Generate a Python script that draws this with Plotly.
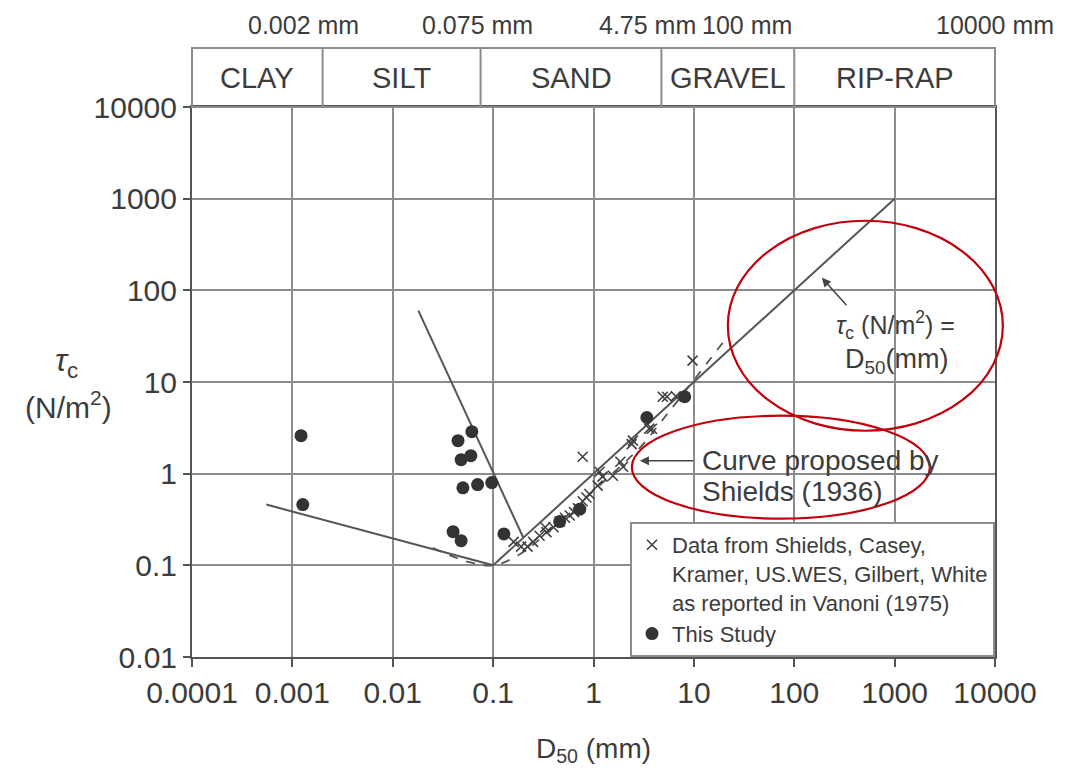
import numpy as np
import plotly.graph_objects as go

# ---------------- data ----------------
# Data from Shields, Casey, Kramer, US.WES, Gilbert, White (Vanoni 1975)
vanoni_d = [0.16, 0.19, 0.22, 0.25, 0.29, 0.34, 0.40, 0.46, 0.58, 0.70, 0.78, 0.91,
            1.1, 1.23, 1.56, 1.97, 2.47, 0.78, 1.15, 1.85, 2.4, 3.6, 3.82, 5.4, 4.9,
            9.7, 0.33, 0.52, 0.64, 0.85, 6.6]
vanoni_tau = [0.18, 0.16, 0.16, 0.18, 0.21, 0.23, 0.26, 0.30, 0.35, 0.42, 0.50, 0.60,
              0.74, 0.93, 0.95, 1.19, 2.29, 1.53, 1.05, 1.35, 2.1, 3.1, 3.09, 6.9, 6.9,
              17.1, 0.26, 0.33, 0.38, 0.55, 7.0]

# This Study
study_d = [0.00122, 0.00127, 0.0447, 0.0614, 0.048, 0.060, 0.050, 0.070, 0.097,
           0.0399, 0.048, 0.128, 0.46, 0.73, 3.4, 8.1]
study_tau = [2.6, 0.46, 2.29, 2.87, 1.42, 1.57, 0.70, 0.76, 0.80,
             0.233, 0.186, 0.22, 0.30, 0.41, 4.1, 6.9]

# Proposed relations (solid lines)
eq_d = [0.1, 1000]            # tau_c (N/m2) = D50 (mm)
eq_tau = [0.1, 1000]
clay_d = [0.00055, 0.1]
clay_tau = [0.46, 0.1]
silt_d = [0.018, 0.2]
silt_tau = [60, 0.2]

# Shields (1936) curve (dashed)
shields_d = [0.025, 0.055, 0.1, 0.2, 0.5, 1.0, 2.0, 3.0, 5.0, 10.0, 20.0]
shields_tau = [0.155, 0.11, 0.1, 0.14, 0.33, 0.65, 1.3, 2.0, 4.0, 10.5, 28.0]

x_tick_vals = [0.0001, 0.001, 0.01, 0.1, 1, 10, 100, 1000, 10000]
x_tick_text = ["0.0001", "0.001", "0.01", "0.1", "1", "10", "100", "1000", "10000"]
y_tick_vals = [0.01, 0.1, 1, 10, 100, 1000, 10000]
y_tick_text = ["0.01", "0.1", "1", "10", "100", "1000", "10000"]

class_bounds = [0.0001, 0.002, 0.075, 4.75, 100, 10000]
class_names = ["CLAY", "SILT", "SAND", "GRAVEL", "RIP-RAP"]
size_labels = ["0.002 mm", "0.075 mm", "4.75 mm", "100 mm", "10000 mm"]
size_label_pos = [0.00128, 0.0706, 3.48, 33.7, 10000]

# ---------------- styling ----------------
FONT = "Liberation Sans, Arial, sans-serif"
TXT = "#3c3c3c"
GRID = "#8c8c8c"
LINE = "#555555"
RED = "#c0000c"
PLOT_H = 609
DOM = 550 / PLOT_H  # fraction of plot height used by the graph (rest is class band)


def xp(v):
    return (np.log10(v) + 4) / 8


def yp(v):
    return (np.log10(v) + 2) / 6 * DOM


fig = go.Figure()

line_style = dict(color=LINE, width=2)
fig.add_trace(go.Scatter(x=eq_d, y=eq_tau, mode="lines", line=line_style,
                         showlegend=False, hoverinfo="skip"))
fig.add_trace(go.Scatter(x=clay_d, y=clay_tau, mode="lines", line=line_style,
                         showlegend=False, hoverinfo="skip"))
fig.add_trace(go.Scatter(x=silt_d, y=silt_tau, mode="lines", line=line_style,
                         showlegend=False, hoverinfo="skip"))
fig.add_trace(go.Scatter(x=shields_d, y=shields_tau, mode="lines",
                         line=dict(color=LINE, width=1.8, dash="dash"),
                         line_shape="spline", showlegend=False, hoverinfo="skip"))

fig.add_trace(go.Scatter(
    x=vanoni_d, y=vanoni_tau, mode="markers",
    name="Data from Shields, Casey,<br>Kramer, US.WES, Gilbert, White<br>as reported in Vanoni (1975)",
    marker=dict(symbol="x-thin-open", size=10, color="#404040",
                line=dict(color="#404040", width=1.6))))
fig.add_trace(go.Scatter(
    x=study_d, y=study_tau, mode="markers", name="This Study",
    marker=dict(symbol="circle", size=13, color="#333333")))

shapes = []
# soil-class band
shapes.append(dict(type="rect", xref="paper", yref="paper", x0=0, x1=1, y0=DOM, y1=1,
                   line=dict(color=GRID, width=2), fillcolor="rgba(0,0,0,0)"))
for b in class_bounds[1:-1]:
    shapes.append(dict(type="line", xref="paper", yref="paper", x0=xp(b), x1=xp(b),
                       y0=DOM, y1=1, line=dict(color=GRID, width=2)))
# red highlight ellipses
shapes.append(dict(type="circle", xref="paper", yref="paper",
                   x0=xp(21.8), x1=xp(11970), y0=yp(2.94), y1=yp(574),
                   line=dict(color=RED, width=2.2)))
shapes.append(dict(type="circle", xref="paper", yref="paper",
                   x0=xp(2.41), x1=xp(2244), y0=yp(0.323), y1=yp(4.29),
                   line=dict(color=RED, width=2.2)))

ann = []
for i, name in enumerate(class_names):
    cx = 10 ** ((np.log10(class_bounds[i]) + np.log10(class_bounds[i + 1])) / 2)
    ann.append(dict(xref="paper", yref="paper", x=xp(cx), y=(1 + DOM) / 2, text=name,
                    showarrow=False, xanchor="center", yanchor="middle",
                    font=dict(size=29, color=TXT, family=FONT)))
for lab, pos in zip(size_labels, size_label_pos):
    ann.append(dict(xref="paper", yref="paper", x=xp(pos), y=(657 - 25) / PLOT_H, text=lab,
                    showarrow=False, xanchor="center", yanchor="middle",
                    font=dict(size=25, color=TXT, family=FONT)))

# y-axis title (horizontal)
ann.append(dict(xref="paper", yref="paper", x=(66 - 192) / 803, y=(657 - 362) / PLOT_H,
                text="<i>τ</i><sub>c</sub>", showarrow=False,
                xanchor="center", yanchor="middle",
                font=dict(size=32, color=TXT, family=FONT)))
ann.append(dict(xref="paper", yref="paper", x=(68 - 192) / 803, y=(657 - 405) / PLOT_H,
                text="(N/m<sup>2</sup>)", showarrow=False,
                xanchor="center", yanchor="middle",
                font=dict(size=30, color=TXT, family=FONT)))

# Shields curve callout
ann.append(dict(xref="x", yref="y", x=np.log10(2.9), y=0.142, text="", showarrow=True,
                ax=55, ay=0, arrowhead=2, arrowsize=1.2, arrowwidth=1.5, arrowcolor="#444",
                standoff=0))
ann.append(dict(xref="x", yref="y", x=1.06, y=0.142, text="Curve proposed by",
                showarrow=False, xanchor="left", yanchor="middle",
                font=dict(size=28, color=TXT, family=FONT)))
ann.append(dict(xref="x", yref="y", x=1.06, y=-0.196, text="Shields (1936)",
                showarrow=False, xanchor="left", yanchor="middle",
                font=dict(size=28, color=TXT, family=FONT)))

# tau_c = D50 callout
ann.append(dict(xref="x", yref="y", x=2.275, y=2.137, text="", showarrow=True,
                ax=26, ay=29, arrowhead=2, arrowsize=1.2, arrowwidth=1.5, arrowcolor="#444",
                standoff=0))
ann.append(dict(xref="x", yref="y", x=3.012, y=1.625,
                text="<i>τ</i><sub>c</sub> (N/m<sup>2</sup>) =", showarrow=False,
                xanchor="center", yanchor="middle",
                font=dict(size=25, color=TXT, family=FONT)))
ann.append(dict(xref="x", yref="y", x=3.02, y=1.232, text="D<sub>50</sub>(mm)",
                showarrow=False, xanchor="center", yanchor="middle",
                font=dict(size=27, color=TXT, family=FONT)))

# page body adds an 8px offset, so the figure is 8px smaller than the window
fig.update_layout(
    width=1075, height=765, autosize=False,
    margin=dict(l=184, r=88, t=40, b=116),
    paper_bgcolor="white", plot_bgcolor="white",
    font=dict(family=FONT, color=TXT),
    shapes=shapes, annotations=ann,
    legend=dict(x=1, xanchor="right", y=0, yanchor="bottom",
                bgcolor="white", bordercolor=GRID, borderwidth=2,
                font=dict(size=22, color=TXT, family=FONT), valign="top",
                itemwidth=30, tracegroupgap=4),
)

fig.update_xaxes(type="log", range=[-4, 4], domain=[0, 1],
                 tickvals=x_tick_vals, ticktext=x_tick_text,
                 tickfont=dict(size=30, color=TXT, family=FONT),
                 ticks="outside", ticklen=8, tickwidth=2, tickcolor=LINE,
                 showgrid=True, gridcolor=GRID, gridwidth=2,
                 showline=True, linecolor=LINE, linewidth=2, mirror=True,
                 zeroline=False,
                 title=dict(text="D<sub>50</sub> (mm)", standoff=30,
                            font=dict(size=28, color=TXT, family=FONT)))
fig.update_yaxes(type="log", range=[-2, 4], domain=[0, DOM],
                 tickvals=y_tick_vals, ticktext=y_tick_text,
                 tickfont=dict(size=30, color=TXT, family=FONT),
                 ticks="outside", ticklen=7, tickwidth=2, tickcolor=LINE,
                 showgrid=True, gridcolor=GRID, gridwidth=2,
                 showline=True, linecolor=LINE, linewidth=2, mirror=True,
                 zeroline=False)

fig.write_html("out.html")
